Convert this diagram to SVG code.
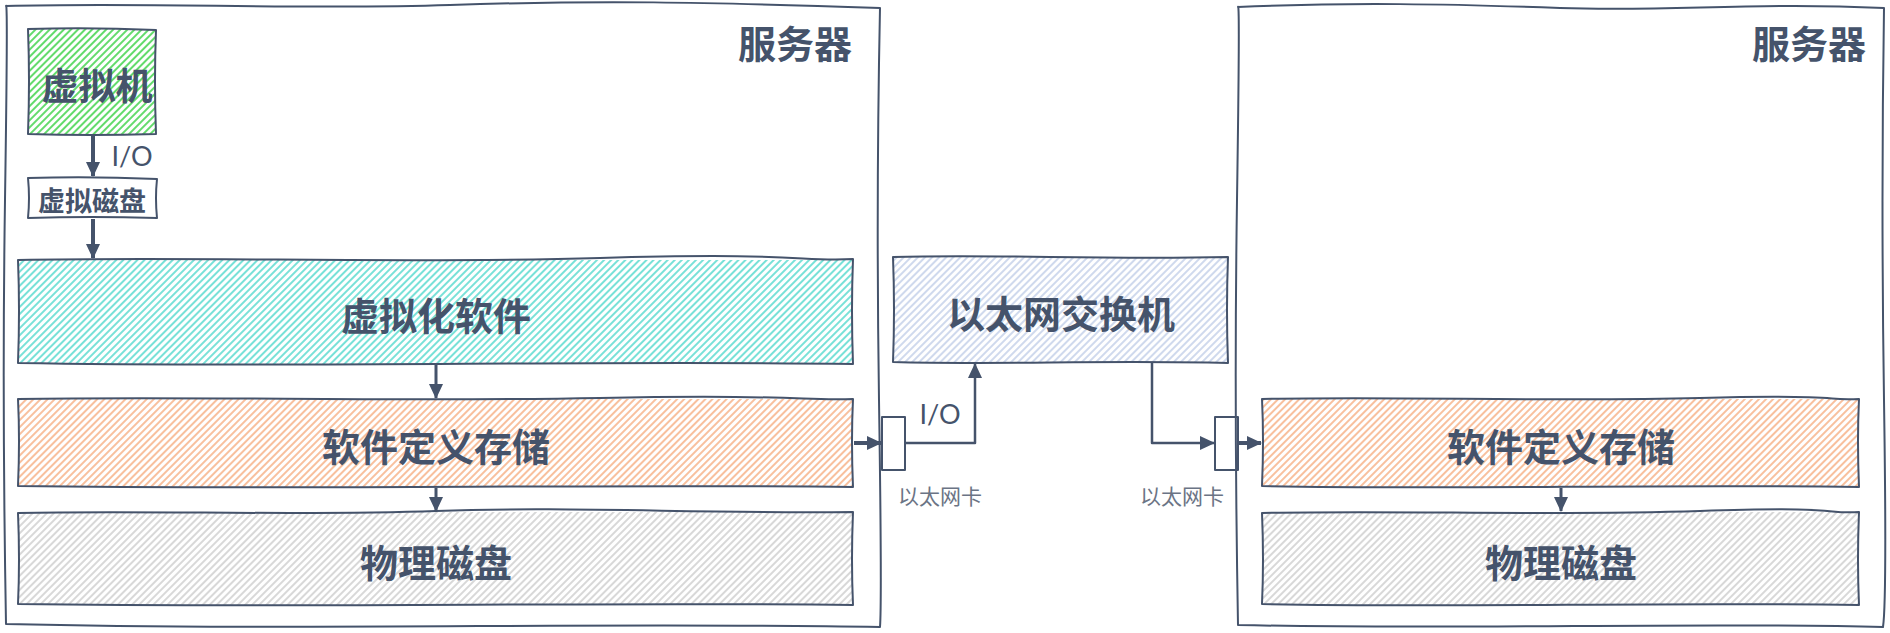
<svg xmlns="http://www.w3.org/2000/svg" width="1890" height="633" viewBox="0 0 1890 633">
<style>
.b{fill:none;stroke:#45536b;stroke-width:2;stroke-linejoin:round}
.c{fill:none;stroke:#45536b;stroke-linejoin:round}
.t{font-family:"Noto Sans CJK SC","Liberation Sans",sans-serif;font-weight:600;fill:#45536b;text-anchor:middle;dominant-baseline:central}
.s{font-family:"Noto Sans CJK SC","Liberation Sans",sans-serif;font-weight:400;fill:#6b7485;font-size:21px;text-anchor:middle;dominant-baseline:central}
.io{font-family:"Lato","Liberation Sans",sans-serif;fill:#45536b;font-size:27px;text-anchor:middle;dominant-baseline:central}
</style>
<defs>
<pattern id="pg" patternUnits="userSpaceOnUse" width="5" height="5" patternTransform="rotate(45)"><rect width="5" height="5" fill="#ffffff"/><line x1="1" y1="0" x2="1" y2="5" stroke="#2fcf3a" stroke-width="1.5"/></pattern>
<pattern id="pc" patternUnits="userSpaceOnUse" width="5" height="5" patternTransform="rotate(45)"><rect width="5" height="5" fill="#ffffff"/><line x1="1" y1="0" x2="1" y2="5" stroke="#3fd5c8" stroke-width="1.4"/></pattern>
<pattern id="po" patternUnits="userSpaceOnUse" width="5" height="5" patternTransform="rotate(45)"><rect width="5" height="5" fill="#ffffff"/><line x1="1" y1="0" x2="1" y2="5" stroke="#f6a574" stroke-width="1.4"/></pattern>
<pattern id="pk" patternUnits="userSpaceOnUse" width="5" height="5" patternTransform="rotate(45)"><rect width="5" height="5" fill="#ffffff"/><line x1="1" y1="0" x2="1" y2="5" stroke="#c4c4c4" stroke-width="1.3"/></pattern>
<pattern id="pb" patternUnits="userSpaceOnUse" width="5" height="5" patternTransform="rotate(45)"><rect width="5" height="5" fill="#ffffff"/><line x1="1" y1="0" x2="1" y2="5" stroke="#b6c5e4" stroke-width="1.3"/></pattern>
<marker id="ah" markerUnits="userSpaceOnUse" markerWidth="16" markerHeight="14" refX="14" refY="7" orient="auto"><path d="M0,0 L15,7 L0,14 Z" fill="#45536b"/></marker>
</defs>

<g id="server-left">
<path class="b" d="M6,6 C150,2 300,10 450,5 S700,2 880,8 Q876,200 879,400 T880,627 C600,622 300,631 6,624 Q2,400 5,200 T6,6 Z"/>
<text class="t" x="795" y="41" font-size="38">服务器</text>
</g>
<g id="server-right">
<path class="b" d="M1238,7 C1350,2 1450,4 1560,8 S1750,2 1884,8 Q1881,200 1884,400 T1883,627 C1700,622 1450,630 1238,625 Q1234,400 1237,200 T1238,7 Z"/>
<text class="t" x="1809" y="41" font-size="38">服务器</text>
</g>

<g id="vm">
<rect x="28" y="29" width="128" height="105" fill="url(#pg)"/>
<path class="b" d="M28,29 Q90,27 156,30 Q154,80 156,134 Q90,136 28,134 Q30,80 28,29 Z"/>
<text class="t" x="97" y="84" font-size="37">虚拟机</text>
</g>
<g id="vdisk">
<rect x="28" y="178" width="129" height="40" fill="#ffffff"/>
<path class="b" d="M28,178 Q90,176 157,179 Q155,198 157,218 Q90,216 28,218 Q30,198 28,178 Z"/>
<text class="t" x="92" y="199" font-size="27">虚拟磁盘</text>
</g>
<g id="virt">
<rect x="18" y="260" width="835" height="104" fill="url(#pc)"/>
<path class="b" d="M18,260 C200,256 400,264 600,258 S800,262 853,259 Q851,310 853,364 C600,360 300,368 18,363 Q20,310 18,260 Z"/>
<text class="t" x="436" y="313" font-size="38">虚拟化软件</text>
</g>
<g id="sds-left">
<rect x="18" y="399" width="835" height="88" fill="url(#po)"/>
<path class="b" d="M18,399 C200,396 400,402 600,398 S800,401 853,399 Q851,440 853,487 C600,484 300,490 18,486 Q20,440 18,399 Z"/>
<text class="t" x="436" y="444" font-size="38">软件定义存储</text>
</g>
<g id="disk-left">
<rect x="18" y="512" width="835" height="93" fill="url(#pk)"/>
<path class="b" d="M18,513 C150,510 300,516 436,511 S700,514 853,512 Q851,560 853,605 C600,602 300,608 18,604 Q20,560 18,513 Z"/>
<text class="t" x="436" y="560" font-size="38">物理磁盘</text>
</g>
<g id="switch">
<rect x="893" y="257" width="335" height="106" fill="url(#pb)"/>
<path class="b" d="M893,257 C1000,254 1100,260 1228,257 Q1226,310 1228,363 C1100,360 1000,365 893,362 Q895,310 893,257 Z"/>
<text class="t" x="1061" y="311" font-size="38">以太网交换机</text>
</g>
<g id="nic-left">
<rect x="882" y="417" width="23" height="53" fill="#ffffff" class="b"/>
<text class="s" x="940" y="495">以太网卡</text>
</g>
<g id="nic-right">
<rect x="1215" y="417" width="23" height="53" fill="#ffffff" class="b"/>
<text class="s" x="1182" y="495">以太网卡</text>
</g>
<g id="sds-right">
<rect x="1262" y="399" width="597" height="88" fill="url(#po)"/>
<path class="b" d="M1262,399 C1400,396 1550,402 1700,398 S1820,401 1859,399 Q1857,440 1859,487 C1650,484 1450,490 1262,486 Q1264,440 1262,399 Z"/>
<text class="t" x="1561" y="444" font-size="38">软件定义存储</text>
</g>
<g id="disk-right">
<rect x="1262" y="512" width="597" height="93" fill="url(#pk)"/>
<path class="b" d="M1262,513 C1400,510 1550,516 1700,511 S1820,514 1859,512 Q1857,560 1859,605 C1650,602 1450,608 1262,604 Q1264,560 1262,513 Z"/>
<text class="t" x="1561" y="560" font-size="38">物理磁盘</text>
</g>

<g id="connectors">
<path class="c" stroke-width="4" d="M93,135 V176" marker-end="url(#ah)"/>
<text class="io" x="132" y="155">I/O</text>
<path class="c" stroke-width="4" d="M93,219 V258" marker-end="url(#ah)"/>
<path class="c" stroke-width="3" d="M436,365 V398" marker-end="url(#ah)"/>
<path class="c" stroke-width="3" d="M436,488 V511" marker-end="url(#ah)"/>
<path class="c" stroke-width="3" d="M1561,488 V511" marker-end="url(#ah)"/>
<path class="c" stroke-width="4" d="M854,443 H881" marker-end="url(#ah)"/>
<path class="c" stroke-width="2.5" d="M905,443 H975 V364" marker-end="url(#ah)"/>
<text class="io" x="940" y="413">I/O</text>
<path class="c" stroke-width="2.5" d="M1152,363 V443 H1214" marker-end="url(#ah)"/>
<path class="c" stroke-width="4" d="M1238,443 H1261" marker-end="url(#ah)"/>
</g>
</svg>
